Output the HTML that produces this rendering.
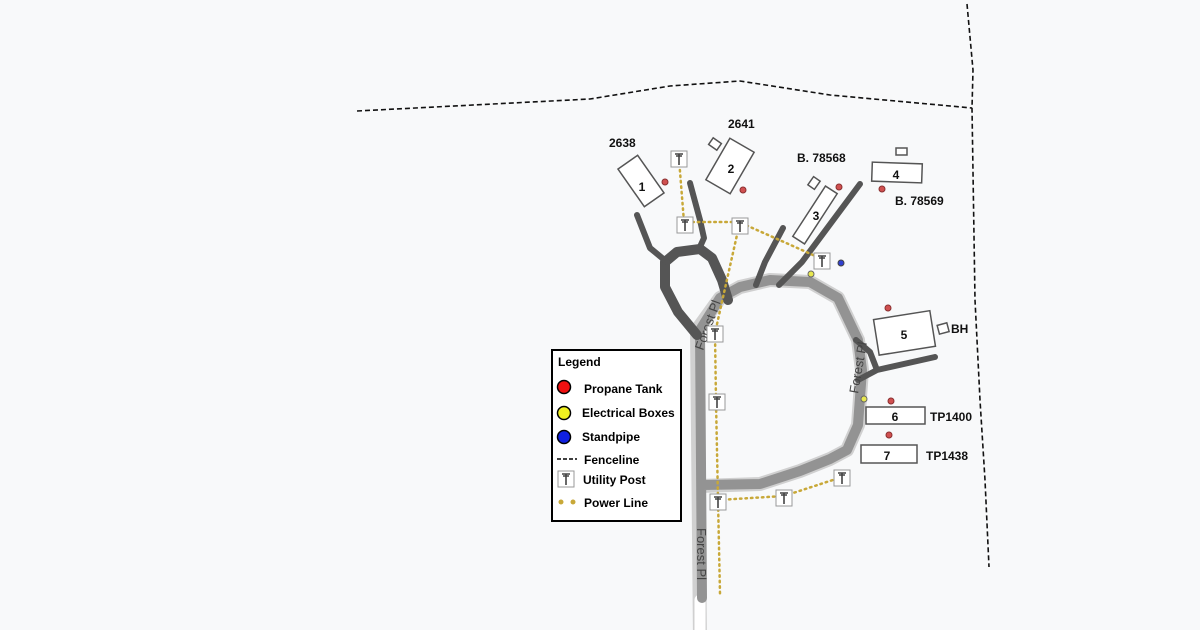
<!DOCTYPE html>
<html><head><meta charset="utf-8"><style>
html,body{margin:0;padding:0;background:#f8f9fa;}
svg{display:block;font-family:"Liberation Sans",sans-serif;}
.b{fill:#fff;stroke:#555;stroke-width:1.5}
.t{font-size:12px;font-weight:bold;fill:#111}
.p{fill:#d05050;stroke:#8a3030;stroke-width:1}
.pl{fill:none;stroke:#c8a838;stroke-width:2.5;stroke-dasharray:1.5 4;stroke-linecap:round}
</style></head><body>
<svg width="1200" height="630" viewBox="0 0 1200 630">
<defs>
<g id="up"><rect x="-8" y="-8" width="16" height="16" fill="#fff" stroke="#999"/><path d="M-4,-5H4M-3,-3H3M0,-5V6" stroke="#444" stroke-width="1.6" fill="none"/></g>
</defs>
<polyline points="357,111 590,99 670,86 740,81 830,95 972,108" fill="none" stroke="#111" stroke-width="1.6" stroke-dasharray="5 3"/>
<polyline points="967,4 973,70 972,108 975,300 980,400 985,480 989,567" fill="none" stroke="#111" stroke-width="1.6" stroke-dasharray="5 3"/>
<g fill="none" stroke-linejoin="round" stroke-linecap="round">
<path d="M700,640 L697,330 L720,298 L740,287 L770,280 L810,282 L838,298 L858,340 L862,370 L858,425 L847,450 L830,459 L800,471 L760,484 L700,486" stroke="#d0d0d0" stroke-width="14"/>
<path d="M700,640 L700,600" stroke="#fff" stroke-width="11"/>
<path d="M702,598 L700,330 L720,298 L740,287 L770,280 L810,282 L838,298 L858,340 L862,370 L858,425 L847,450 L830,459 L800,471 L760,484 L703,485" stroke="#939393" stroke-width="10"/>
<path d="M697,335 L678,312 L665,287 L665,262 L677,252 L700,249 L712,258 L722,280 L728,300" stroke="#555" stroke-width="10"/>
<path d="M637,215 L650,248 L667,262" stroke="#555" stroke-width="6"/>
<path d="M690,183 L700,220 L704,238 L699,249" stroke="#555" stroke-width="6"/>
<path d="M783,228 L765,262 L756,285" stroke="#555" stroke-width="6"/>
<path d="M860,184 L802,262 L779,285" stroke="#555" stroke-width="6"/>
<path d="M856,340 L870,352 L877,370 L935,357 M877,370 L858,380" stroke="#555" stroke-width="6"/>
</g>
<text transform="translate(703,351) rotate(-70)" font-size="13" fill="#444">Forest Pl</text>
<text transform="translate(697,528) rotate(90)" font-size="13" fill="#444">Forest Pl</text>
<text transform="translate(858,394) rotate(-80)" font-size="13" fill="#444">Forest Pl</text>
<polyline class="pl" points="679,159 684,222 739,222 822,259"/>
<polyline class="pl" points="739,226 715,333 716,402 718,500 720,594"/>
<polyline class="pl" points="718,500 784,496 842,477"/>
<rect class="b" x="-12" y="-23" width="24" height="46" transform="translate(641,181) rotate(-35)"/>
<text class="t" x="642" y="191" text-anchor="middle">1</text>
<rect class="b" x="-14" y="-24" width="28" height="48" transform="translate(730,166) rotate(30)"/>
<text class="t" x="731" y="173" text-anchor="middle">2</text>
<rect class="b" x="-5" y="-4" width="10" height="8" transform="translate(715,144) rotate(35)"/>
<rect class="b" x="-7" y="-30" width="14" height="60" transform="translate(815,215) rotate(33)"/>
<text class="t" x="816" y="220" text-anchor="middle">3</text>
<rect class="b" x="-4" y="-5" width="8" height="10" transform="translate(814,183) rotate(35)"/>
<rect class="b" x="872" y="163" width="50" height="19" transform="rotate(2 897 172)"/>
<text class="t" x="896" y="179" text-anchor="middle">4</text>
<rect class="b" x="896" y="148" width="11" height="7"/>
<rect class="b" x="876" y="315" width="57" height="36" transform="rotate(-9 904 333)"/>
<text class="t" x="904" y="339" text-anchor="middle">5</text>
<rect class="b" x="938" y="324" width="10" height="9" transform="rotate(-15 943 328)"/>
<rect class="b" x="866" y="407" width="59" height="17"/>
<text class="t" x="895" y="421" text-anchor="middle">6</text>
<rect class="b" x="861" y="445" width="56" height="18"/>
<text class="t" x="887" y="460" text-anchor="middle">7</text>
<text class="t" x="609" y="147">2638</text>
<text class="t" x="728" y="128">2641</text>
<text class="t" x="797" y="162">B. 78568</text>
<text class="t" x="895" y="205">B. 78569</text>
<text class="t" x="951" y="333">BH</text>
<text class="t" x="930" y="421">TP1400</text>
<text class="t" x="926" y="460">TP1438</text>
<circle class="p" cx="665" cy="182" r="3"/>
<circle class="p" cx="743" cy="190" r="3"/>
<circle class="p" cx="839" cy="187" r="3"/>
<circle class="p" cx="882" cy="189" r="3"/>
<circle class="p" cx="888" cy="308" r="3"/>
<circle class="p" cx="891" cy="401" r="3"/>
<circle class="p" cx="889" cy="435" r="3"/>
<circle cx="811" cy="274" r="3" fill="#e8e850" stroke="#666"/>
<circle cx="864" cy="399" r="3" fill="#e8e850" stroke="#666"/>
<circle cx="841" cy="263" r="3" fill="#3040d0" stroke="#444"/>
<use href="#up" x="679" y="159"/>
<use href="#up" x="685" y="225"/>
<use href="#up" x="740" y="226"/>
<use href="#up" x="822" y="261"/>
<use href="#up" x="715" y="334"/>
<use href="#up" x="717" y="402"/>
<use href="#up" x="718" y="502"/>
<use href="#up" x="784" y="498"/>
<use href="#up" x="842" y="478"/>
<rect x="552" y="350" width="129" height="171" fill="#fff" stroke="#000" stroke-width="2"/>
<text x="558" y="366" font-size="12" font-weight="bold" fill="#000">Legend</text>
<circle cx="564" cy="387" r="6.5" fill="#f01010" stroke="#000" stroke-width="1.5"/>
<text x="584" y="393" font-size="12" font-weight="bold">Propane Tank</text>
<circle cx="564" cy="413" r="6.5" fill="#f0f020" stroke="#000" stroke-width="1.5"/>
<text x="582" y="417" font-size="12" font-weight="bold">Electrical Boxes</text>
<circle cx="564" cy="437" r="6.5" fill="#1020e0" stroke="#000" stroke-width="1.5"/>
<text x="582" y="441" font-size="12" font-weight="bold">Standpipe</text>
<path d="M557,459H577" stroke="#000" stroke-width="1.6" stroke-dasharray="4 2"/>
<text x="584" y="464" font-size="12" font-weight="bold">Fenceline</text>
<use href="#up" x="566" y="479"/>
<text x="583" y="484" font-size="12" font-weight="bold">Utility Post</text>
<circle cx="561" cy="502" r="2.5" fill="#c8a838"/><circle cx="573" cy="502" r="2.5" fill="#c8a838"/>
<text x="584" y="507" font-size="12" font-weight="bold">Power Line</text>
</svg>
</body></html>
